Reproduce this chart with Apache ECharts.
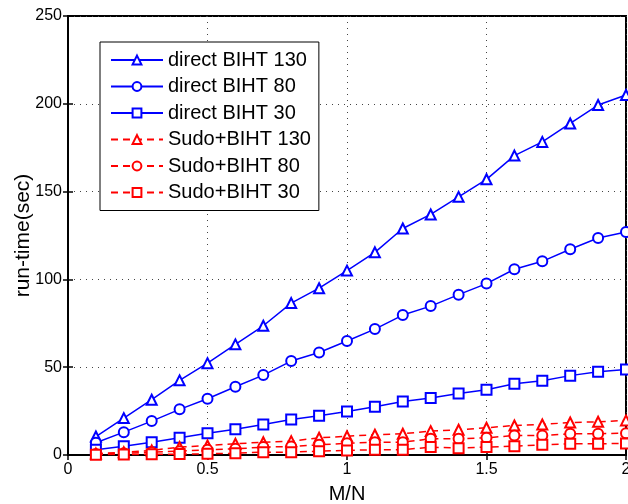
<!DOCTYPE html>
<html>
<head>
    <meta charset="utf-8">
    <title>run-time vs M/N</title>
    <script src="https://cdn.jsdelivr.net/npm/echarts@6/dist/echarts.min.js"></script>
</head>
<body style="margin:0">
    <div id="main" style="width: 628px;height:504px;"></div>
    <script type="text/javascript">
        // M/N 取值
        var ratios = [0.1, 0.2, 0.3, 0.4, 0.5, 0.6, 0.7, 0.8, 0.9, 1.0,
                      1.1, 1.2, 1.3, 1.4, 1.5, 1.6, 1.7, 1.8, 1.9, 2.0];

        var direct130 = [10.5, 21, 31.5, 42.5, 52.3, 63, 73.6, 86.5, 95, 105,
                         115.4, 129, 137, 147, 157, 170.5, 178.3, 188.8, 199.3, 205];
        var direct80  = [7, 13, 19.3, 26, 32, 38.9, 45.5, 53.5, 58.4, 64.9,
                         71.7, 79.7, 84.8, 91.3, 97.6, 105.8, 110.3, 117.2, 123.6, 127];
        var direct30  = [3, 5, 7.3, 9.8, 12.4, 14.7, 17.4, 20.2, 22.3, 24.8,
                         27.5, 30.5, 32.4, 35, 37.2, 40.6, 42.3, 45.2, 47.4, 48.7];
        var sudo130   = [0.8, 1.6, 2.6, 4.5, 5.4, 6.4, 7.3, 7.9, 9.8, 10.7,
                         11.5, 12.1, 13.6, 14.4, 15.5, 16.8, 17.4, 18.5, 18.9, 19.7];
        var sudo80    = [0.5, 1, 1.6, 2.2, 3, 3.5, 4.5, 4.8, 5.8, 6.7,
                         7.3, 7.3, 9.2, 9.2, 9.8, 11.1, 11.1, 12.1, 12.1, 12.4];
        var sudo30    = [0.2, 0.3, 0.4, 0.5, 0.7, 1, 1.6, 1.6, 2.2, 2.6,
                         3, 3, 4.5, 3.9, 4.5, 5, 5.8, 6.4, 6.4, 6.6];

        var xTicks = [0, 0.5, 1, 1.5, 2];
        var yTicks = [0, 50, 100, 150, 200, 250];

        function pairs(vals) {
            return ratios.map(function (r, i) { return [r, vals[i]]; });
        }

        function mkSeries(name, vals, color, symbol, dashed) {
            return {
                name: name,
                type: 'line',
                data: pairs(vals),
                symbol: symbol,
                symbolSize: 10,
                showAllSymbol: true,
                lineStyle: { color: color, width: 1.5, type: dashed ? [7, 5] : 'solid' },
                itemStyle: { color: color, borderColor: color, borderWidth: 1.5 },
                emphasis: { disabled: true },
                animation: false
            };
        }

        var font = 'Liberation Sans, Arial, sans-serif';
        var dotted = { show: true, lineStyle: { color: '#444', type: [1, 5], width: 1 } };

        var myChart = echarts.init(document.getElementById('main'));

        var option = {
            backgroundColor: '#fff',
            animation: false,
            grid: { left: 68, right: 2, top: 16, bottom: 49, show: true, borderColor: '#000', borderWidth: 2,
                    containLabel: false, outerBoundsMode: 'none' },
            legend: {
                orient: 'vertical',
                left: 100, top: 42,
                padding: [8, 8, 8, 10],
                itemGap: 6.5,
                itemWidth: 52,
                itemHeight: 11,
                borderColor: '#000',
                borderWidth: 1,
                backgroundColor: '#fff',
                textStyle: { fontFamily: font, fontSize: 20, color: '#000', lineHeight: 20 },
                data: ['direct BIHT 130', 'direct BIHT 80', 'direct BIHT 30',
                       'Sudo+BIHT 130', 'Sudo+BIHT 80', 'Sudo+BIHT 30']
            },
            xAxis: [{
                type: 'value', min: 0, max: 2, interval: 0.5,
                name: 'M/N', nameLocation: 'middle', nameGap: 29,
                nameTextStyle: { fontFamily: font, fontSize: 20, color: '#000' },
                axisLine: { lineStyle: { color: '#000', width: 2 } },
                axisTick: { inside: true, length: 5, lineStyle: { color: '#000', width: 1.5 } },
                axisLabel: { fontFamily: font, fontSize: 16, color: '#000', margin: 7,
                    formatter: function (v) { return xTicks.indexOf(v) >= 0 ? String(v) : ''; } },
                splitLine: dotted
            }, {
                type: 'value', min: 0, max: 2, interval: 0.5, position: 'top',
                axisLine: { lineStyle: { color: '#000', width: 2 } },
                axisTick: { inside: true, length: 5, lineStyle: { color: '#000', width: 1.5 } },
                axisLabel: { show: false }, splitLine: { show: false }
            }],
            yAxis: [{
                type: 'value', min: 0, max: 250, interval: 50,
                name: 'run-time(sec)', nameLocation: 'middle', nameGap: 34, nameMoveOverlap: false,
                nameTextStyle: { fontFamily: font, fontSize: 21, color: '#000' },
                axisLine: { show: true, lineStyle: { color: '#000', width: 2 } },
                axisTick: { show: true, inside: true, length: 5, lineStyle: { color: '#000', width: 1.5 } },
                axisLabel: { fontFamily: font, fontSize: 16, color: '#000', margin: 6,
                    formatter: function (v) { return yTicks.indexOf(v) >= 0 ? String(v) : ''; } },
                splitLine: dotted
            }, {
                type: 'value', min: 0, max: 250, interval: 50, position: 'right',
                axisLine: { show: true, lineStyle: { color: '#000', width: 2 } },
                axisTick: { show: true, inside: true, length: 5, lineStyle: { color: '#000', width: 1.5 } },
                axisLabel: { show: false }, splitLine: { show: false }
            }],
            series: [
                mkSeries('direct BIHT 130', direct130, '#0000ff', 'emptyTriangle', false),
                mkSeries('direct BIHT 80', direct80, '#0000ff', 'emptyCircle', false),
                mkSeries('direct BIHT 30', direct30, '#0000ff', 'emptyRect', false),
                mkSeries('Sudo+BIHT 130', sudo130, '#ff0000', 'emptyTriangle', true),
                mkSeries('Sudo+BIHT 80', sudo80, '#ff0000', 'emptyCircle', true),
                mkSeries('Sudo+BIHT 30', sudo30, '#ff0000', 'emptyRect', true)
            ]
        };

        myChart.setOption(option);
    </script>
</body>
</html>
